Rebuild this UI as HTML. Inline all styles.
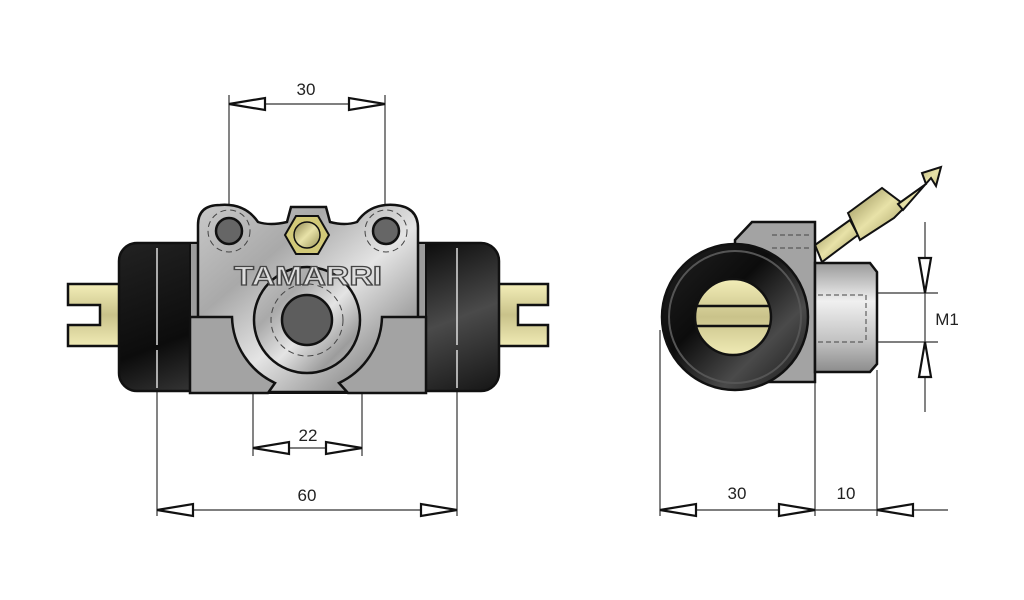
<!DOCTYPE html>
<html><head><meta charset="utf-8"><style>
html,body{margin:0;padding:0;background:#fff;}
svg{display:block;}
text{font-family:"Liberation Sans",Arial,sans-serif;}
</style></head><body>
<svg width="1024" height="600" viewBox="0 0 1024 600" xmlns="http://www.w3.org/2000/svg">
<defs>
<linearGradient id="blk" x1="0" y1="0" x2="1" y2="1">
<stop offset="0" stop-color="#222"/><stop offset="0.4" stop-color="#0c0c0c"/><stop offset="0.7" stop-color="#4a4a4a"/><stop offset="1" stop-color="#151515"/></linearGradient>
<linearGradient id="metal" x1="0" y1="0" x2="1" y2="1">
<stop offset="0" stop-color="#c9c9c9"/><stop offset="0.3" stop-color="#a9a9a9"/><stop offset="0.55" stop-color="#e4e4e4"/><stop offset="0.8" stop-color="#9c9c9c"/><stop offset="1" stop-color="#c8c8c8"/></linearGradient>
<linearGradient id="yel" x1="0" y1="0" x2="0" y2="1">
<stop offset="0" stop-color="#f3eeb8"/><stop offset="0.5" stop-color="#c9c28a"/><stop offset="1" stop-color="#f0ebb5"/></linearGradient>
<linearGradient id="cyl" x1="0" y1="0" x2="0" y2="1">
<stop offset="0" stop-color="#9a9a9a"/><stop offset="0.35" stop-color="#f0f0f0"/><stop offset="0.7" stop-color="#c4c4c4"/><stop offset="1" stop-color="#8c8c8c"/></linearGradient>
<linearGradient id="brass" x1="0" y1="0" x2="1" y2="1">
<stop offset="0" stop-color="#8d8650"/><stop offset="0.5" stop-color="#e8e2a8"/><stop offset="1" stop-color="#9a9358"/></linearGradient>
</defs>

<g stroke="#333" stroke-width="1.2" fill="none">
<line x1="229" y1="95" x2="229" y2="215"/><line x1="385" y1="95" x2="385" y2="215"/>
<line x1="229" y1="104" x2="385" y2="104"/>
<line x1="253" y1="390" x2="253" y2="456"/><line x1="362" y1="390" x2="362" y2="456"/>
<line x1="253" y1="448" x2="362" y2="448"/>
<line x1="157" y1="385" x2="157" y2="516"/><line x1="457" y1="385" x2="457" y2="516"/>
<line x1="157" y1="510" x2="457" y2="510"/>
<line x1="660" y1="330" x2="660" y2="516"/><line x1="815" y1="380" x2="815" y2="516"/><line x1="877" y1="370" x2="877" y2="516"/>
<line x1="660" y1="510" x2="948" y2="510"/>
<line x1="925" y1="222" x2="925" y2="412"/>
<line x1="877" y1="293" x2="938" y2="293"/><line x1="877" y1="342" x2="938" y2="342"/>
</g>
<g fill="#fff" stroke="#111" stroke-width="2.2">
<polygon points="229,104 265,98 265,110"/><polygon points="385,104 349,98 349,110"/>
<polygon points="253,448 289,442 289,454"/><polygon points="362,448 326,442 326,454"/>
<polygon points="157,510 193,504 193,516"/><polygon points="457,510 421,504 421,516"/>
<polygon points="660,510 696,504 696,516"/><polygon points="815,510 779,504 779,516"/>
<polygon points="877,510 913,504 913,516"/>
<polygon points="925,293 919,258 931,258"/><polygon points="925,342 919,377 931,377"/>
</g>
<g font-size="17" fill="#222" text-anchor="middle">
<text x="306" y="95">30</text><text x="308" y="441">22</text><text x="307" y="501">60</text>
<text x="737" y="499">30</text><text x="846" y="499">10</text>
<text x="947" y="325">M1</text>
</g>

<!-- LEFT VIEW -->
<g stroke="#111" stroke-width="2.5" fill="url(#yel)">
<path d="M68,284 H125 V346 H68 V325 H100 V305 H68 Z"/>
<path d="M548,284 H490 V346 H548 V325 H518 V305 H548 Z"/>
</g>
<rect x="119" y="243" width="380" height="148" rx="18" fill="url(#blk)" stroke="#111" stroke-width="2.5"/>
<g stroke="#ddd" stroke-width="1.5">
<line x1="157" y1="248" x2="157" y2="345"/><line x1="157" y1="350" x2="157" y2="388"/>
<line x1="457" y1="248" x2="457" y2="345"/><line x1="457" y1="350" x2="457" y2="388"/>
</g>
<rect x="190" y="243" width="236" height="150" fill="#9c9c9c" stroke="#111" stroke-width="2"/>
<path d="M198,392 V225 Q198,205 220,205 Q245,203 258,222 Q270,226 287,222 L291,207 H326 L330,222 Q345,226 357,222 Q370,203 395,205 Q418,207 418,228 V392 Z" fill="url(#metal)" stroke="#111" stroke-width="2.5"/>
<path d="M190,317 H232 A75,75 0 0 0 275,383 L268,393 H190 Z" fill="#a3a3a3" stroke="#111" stroke-width="2.5"/>
<path d="M426,317 H382 A75,75 0 0 1 339,383 L348,393 H426 Z" fill="#a3a3a3" stroke="#111" stroke-width="2.5"/>
<circle cx="307" cy="320" r="53" fill="url(#metal)" stroke="#111" stroke-width="2.5"/>
<circle cx="307" cy="320" r="36" fill="none" stroke="#444" stroke-width="1" stroke-dasharray="6,4"/>
<circle cx="307" cy="320" r="25" fill="#5d5d5d" stroke="#111" stroke-width="2.5"/>
<circle cx="229" cy="231" r="21" fill="none" stroke="#444" stroke-width="1" stroke-dasharray="6,4"/>
<circle cx="386" cy="231" r="21" fill="none" stroke="#444" stroke-width="1" stroke-dasharray="6,4"/>
<circle cx="229" cy="231" r="13" fill="#666" stroke="#111" stroke-width="2.5"/>
<circle cx="386" cy="231" r="13" fill="#666" stroke="#111" stroke-width="2.5"/>
<polygon points="285,235 296,216 318,216 329,235 318,254 296,254" fill="#d2c978" stroke="#111" stroke-width="2"/>
<circle cx="307" cy="235" r="13" fill="url(#brass)" stroke="#111" stroke-width="1.5"/>
<text x="308" y="285" font-size="27" font-weight="bold" text-anchor="middle" fill="#ddd" stroke="#444" stroke-width="1.3" textLength="148" lengthAdjust="spacingAndGlyphs">TAMARRI</text>

<!-- RIGHT VIEW -->
<g stroke="#111" stroke-width="2">
<polygon points="815,245 850,220 858,235 822,262" fill="url(#brass)"/>
<polygon points="848,213 882,188 906,206 894,218 860,240" fill="url(#brass)"/>
<polygon points="898,204 926,184 922,173 941,167 936,186 931,178 903,210" fill="url(#brass)"/>
</g>
<path d="M735,240 L752,222 H815 V382 H735 Z" fill="#a3a3a3" stroke="#111" stroke-width="2.5"/>
<g stroke="#444" stroke-width="1" stroke-dasharray="5,3"><line x1="772" y1="235" x2="812" y2="235"/><line x1="772" y1="248" x2="812" y2="248"/></g>
<path d="M815,263 H870 L877,272 V364 L870,372 H815 Z" fill="url(#cyl)" stroke="#111" stroke-width="2.5"/>
<g stroke="#444" stroke-width="1" stroke-dasharray="5,3"><line x1="818" y1="295" x2="866" y2="295"/><line x1="818" y1="342" x2="866" y2="342"/><line x1="866" y1="295" x2="866" y2="342"/></g>
<circle cx="735" cy="317" r="73" fill="url(#blk)" stroke="#111" stroke-width="2.5"/>
<circle cx="735" cy="317" r="66" fill="none" stroke="#555" stroke-width="2"/>
<circle cx="733" cy="317" r="38" fill="url(#yel)" stroke="#111" stroke-width="2.5"/>
<g stroke="#111" stroke-width="2.5"><line x1="697" y1="306" x2="769" y2="306"/><line x1="697" y1="326" x2="769" y2="326"/></g>
</svg>
</body></html>
